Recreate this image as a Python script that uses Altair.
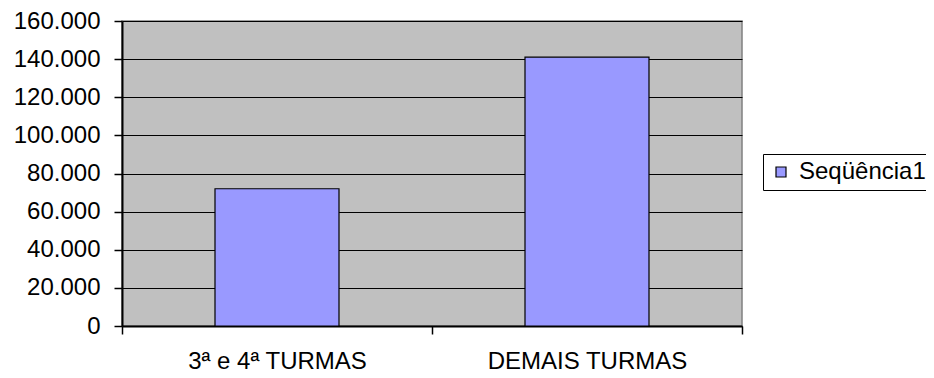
import altair as alt
import pandas as pd

categories = ["3ª e 4ª TURMAS", "DEMAIS TURMAS"]
values = [72000, 141000]
series = ["Seqüência1", "Seqüência1"]
y_ticks = [0, 20000, 40000, 60000, 80000, 100000, 120000, 140000, 160000]

df = pd.DataFrame({"cat": categories, "val": values, "serie": series})

FONT = "Liberation Sans"
FS = 24

chart = alt.Chart(df).mark_bar(stroke="black", strokeWidth=1.2,
                               width=alt.RelativeBandSize(0.4)).encode(
    x=alt.X("cat:N", sort=categories, title=None,
            scale=alt.Scale(paddingInner=0, paddingOuter=0),
            axis=alt.Axis(labelAngle=0, tickBand="extent", ticks=True, tickSize=8,
                          tickColor="black", tickWidth=1.5, domainColor="black",
                          domainWidth=2, labelPadding=34, labelBaseline="alphabetic",
                          labelFontSize=FS,
                          labelLimit=0, labelFont=FONT, labelColor="black", grid=False)),
    y=alt.Y("val:Q", title=None,
            scale=alt.Scale(domain=[0, 160000], nice=False),
            axis=alt.Axis(values=y_ticks, tickSize=8, tickColor="black", tickWidth=1.5,
                          domainColor="black", domainWidth=2, labelPadding=14,
                          labelFontSize=FS, labelFont=FONT, labelColor="black",
                          grid=True, gridColor="black", gridWidth=1,
                          labelExpr="replace(format(datum.value, ',d'), ',', '.')")),
    fill=alt.Fill("serie:N", title=None,
                  scale=alt.Scale(domain=["Seqüência1"], range=["#9999ff"]),
                  legend=alt.Legend(orient="none", legendX=641, legendY=133,
                                    symbolType="square", symbolSize=100,
                                    symbolStrokeColor="black", symbolStrokeWidth=1.2,
                                    symbolFillColor="#9999ff",
                                    labelFont=FONT, labelFontSize=FS, labelColor="black",
                                    strokeColor="black", padding=6, labelOffset=6,
                                    fillColor="white")),
).properties(
    width=620, height=305,
    background="white",
    autosize=alt.AutoSizeParams(type="none"),
    padding={"left": 114, "top": 13, "right": 184, "bottom": 44},
).configure_view(
    fill="#c0c0c0", stroke="#808080", strokeWidth=1.5
)

chart.save("out.html", embed_options={"renderer": "svg", "actions": False})
